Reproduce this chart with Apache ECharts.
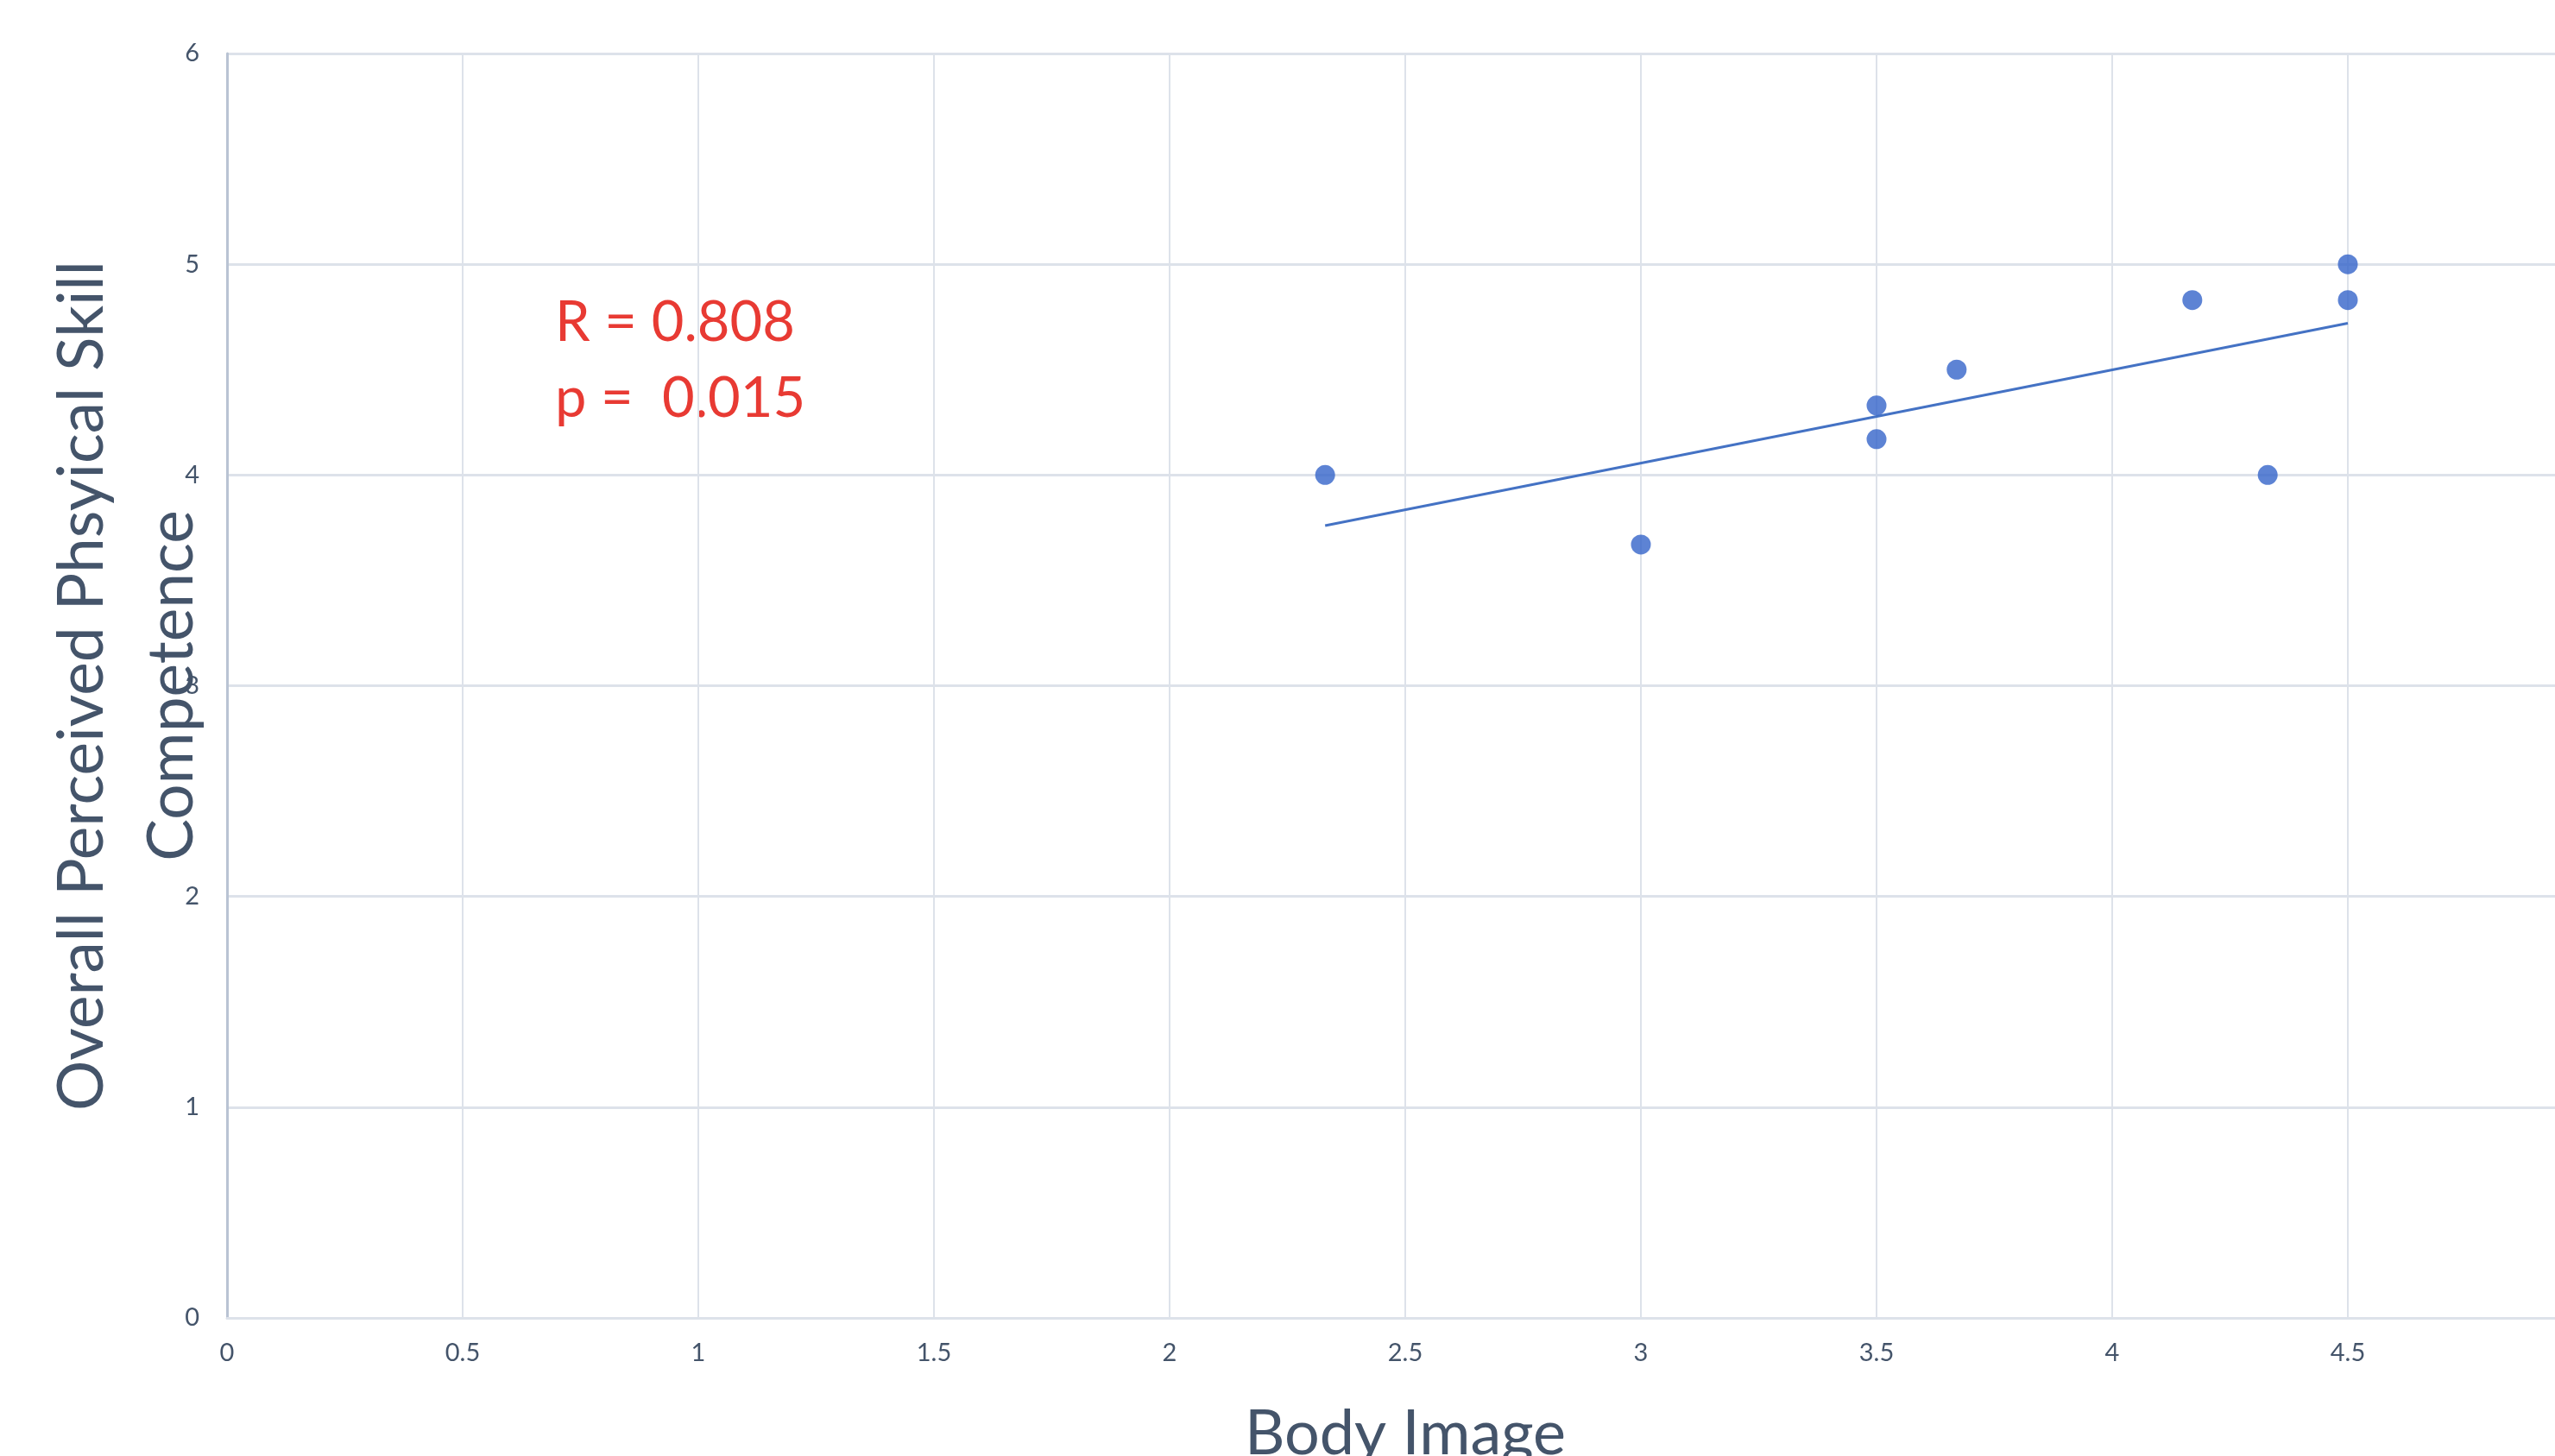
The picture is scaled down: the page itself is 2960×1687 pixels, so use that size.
<!DOCTYPE html>
<html>
<head>
<meta charset="utf-8">
<script src="https://cdn.jsdelivr.net/npm/echarts@6/dist/echarts.min.js"></script>
<style>
html,body{margin:0;padding:0;background:#fff;}
#chart{width:2960px;height:1687px;}
</style>
</head>
<body>
<div id="chart"></div>
<script>
// Data
const bodyImage = [2.33, 3.0, 3.5, 3.5, 3.67, 4.17, 4.33, 4.5, 4.5];
const competence = [4.0, 3.67, 4.33, 4.17, 4.5, 4.83, 4.0, 5.0, 4.83];
const trendX = [2.33, 4.5];
const trendY = [3.76, 4.72];
const xTicks = { min: 0, max: 5, interval: 0.5 };
const yTicks = { min: 0, max: 6, interval: 1 };
const annotation = ['R = 0.808', 'p =  0.015'];
const xTitle = 'Body Image';
const yTitle = 'Overall Perceived Phsyical Skill\nCompetence';

const points = bodyImage.map((x, i) => [x, competence[i]]);
const trend = trendX.map((x, i) => [x, trendY[i]]);

const textColor = '#44546A';
const gridColor = '#dde2ea';
const dotColor = '#3564C9';

const chart = echarts.init(document.getElementById('chart'), null, { renderer: 'canvas' });
chart.setOption({
  backgroundColor: '#ffffff',
  animation: false,
  grid: { left: 263, top: 62, right: -33, bottom: 160, containLabel: false, outerBoundsMode: 'none' },
  xAxis: {
    type: 'value',
    min: xTicks.min, max: xTicks.max, interval: xTicks.interval,
    name: xTitle,
    nameLocation: 'middle',
    nameGap: 99,
    nameMoveOverlap: false,
    nameTextStyle: { fontFamily: 'Lato', fontSize: 72, color: textColor, lineHeight: 72 },
    axisLine: { show: true, lineStyle: { color: gridColor, width: 3 } },
    axisTick: { show: false },
    axisLabel: { fontFamily: 'Lato', fontSize: 29, color: textColor, margin: 26 },
    splitLine: { show: true, lineStyle: { color: gridColor, width: 2 } }
  },
  yAxis: {
    type: 'value',
    min: yTicks.min, max: yTicks.max, interval: yTicks.interval,
    name: yTitle,
    nameLocation: 'middle',
    nameRotate: 90,
    nameGap: 12,
    nameMoveOverlap: false,
    nameTextStyle: { fontFamily: 'Lato', fontSize: 73, color: textColor, lineHeight: 104, align: 'center' },
    axisLine: { show: true, lineStyle: { color: '#b9c3d3', width: 3 } },
    axisTick: { show: false },
    axisLabel: { fontFamily: 'Lato', fontSize: 29, color: textColor, margin: 32, padding: [0, 0, 14, 0] },
    splitLine: { show: true, lineStyle: { color: gridColor, width: 3 } }
  },
  graphic: [{
    type: 'text',
    left: 643,
    top: 330,
    style: {
      text: annotation.join('\n'),
      fontFamily: 'Lato',
      fontSize: 65,
      lineHeight: 88,
      fill: '#E83A33'
    }
  }],
  series: [
    {
      type: 'line',
      data: trend,
      showSymbol: false,
      symbol: 'none',
      lineStyle: { color: '#4472C4', width: 3 },
      z: 2
    },
    {
      type: 'scatter',
      data: points,
      symbol: 'circle',
      symbolSize: 23,
      itemStyle: { color: dotColor },
      z: 3
    }
  ]
});
</script>
</body>
</html>
